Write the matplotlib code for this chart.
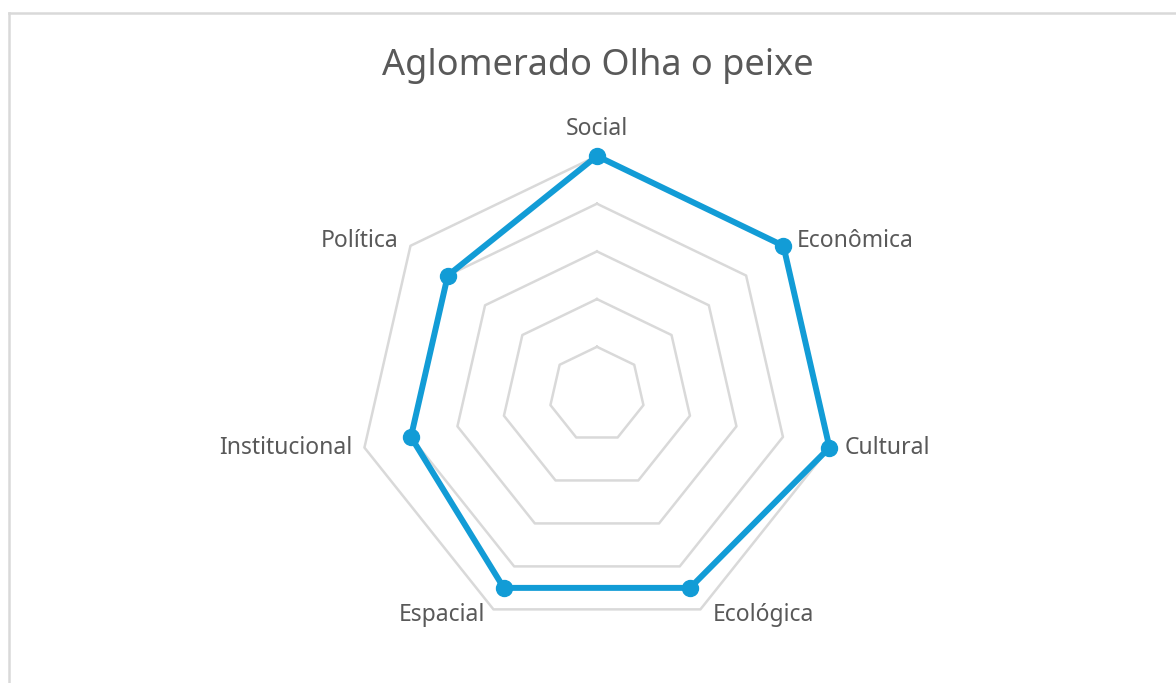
import numpy as np
import matplotlib
matplotlib.use("Agg")
import matplotlib.pyplot as plt

plt.rcParams['font.family'] = ['Noto Sans', 'DejaVu Sans']

categories = ["Social", "Econômica", "Cultural", "Ecológica", "Espacial", "Institucional", "Política"]
values = [5, 5, 5, 4.5, 4.5, 4, 4]
rings = [1, 2, 3, 4, 5]
title = "Aglomerado Olha o peixe"

# label offsets (px) from the outer vertex, Excel-like placement
label_pos = {
    "Social": (0, 27, 'center'),
    "Econômica": (13, 5, 'left'),
    "Cultural": (15, 0, 'left'),
    "Ecológica": (12, -6, 'left'),
    "Espacial": (-8, -6, 'right'),
    "Institucional": (-12, 0, 'right'),
    "Política": (-12, 5, 'right'),
}

blue = "#129CD6"
grid_c = "#D9D9D9"
txt_c = "#595959"

fig = plt.figure(figsize=(11.76, 6.83), dpi=100)
# chart border (light gray frame like Excel)
fig.add_artist(plt.Line2D([8.5 / 1176, 8.5 / 1176], [0, 1 - 12.5 / 683], color=grid_c, lw=1.8))
fig.add_artist(plt.Line2D([8.5 / 1176, 1], [1 - 12.5 / 683, 1 - 12.5 / 683], color=grid_c, lw=1.8))

ax = fig.add_axes([0.3048, 0.0732, 0.4056, 0.6984], projection='polar')
ax.set_theta_offset(np.pi / 2)
ax.set_theta_direction(-1)
ax.set_ylim(0, 5)
ax.grid(False)
ax.spines['polar'].set_visible(False)
ax.set_xticks([])
ax.set_yticks([])
ax.patch.set_alpha(0)

n = len(categories)
theta = np.linspace(0, 2 * np.pi, n, endpoint=False)
theta_c = np.append(theta, theta[0])

for r in rings:
    ax.plot(theta_c, [r] * (n + 1), color=grid_c, lw=1.8, zorder=1, clip_on=False)

vals_c = values + values[:1]
ax.plot(theta_c, vals_c, color=blue, lw=4.3, zorder=3, clip_on=False)
ax.plot(theta, values, 'o', color=blue, ms=11.5, zorder=4, clip_on=False)

for t, cat in zip(theta, categories):
    dx, dy, ha = label_pos[cat]
    ax.annotate(cat, xy=(t, rings[-1]), xytext=(dx * 0.72, dy * 0.72), textcoords='offset points',
                ha=ha, va='center', fontsize=16.5, color=txt_c, annotation_clip=False)

fig.text(598 / 1176, 1 - 66 / 683, title, ha='center', va='center', fontsize=26, color=txt_c)

fig.savefig("out.png", dpi=100, facecolor='white')
